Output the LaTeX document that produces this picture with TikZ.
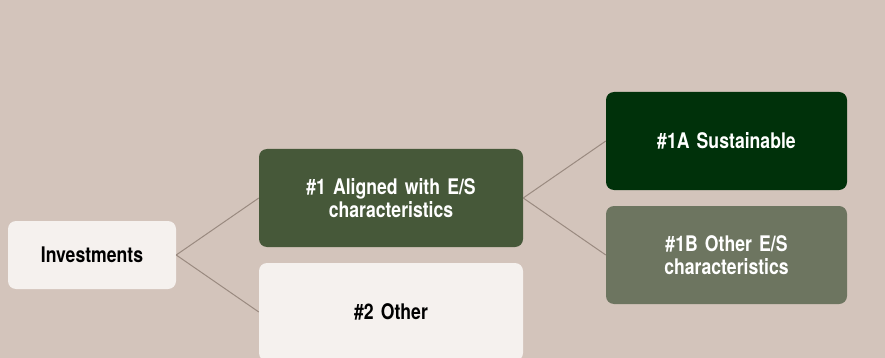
\documentclass[tikz,border=0pt]{standalone}
\usepackage{fontspec}
\setmainfont{TeX Gyre Heros}[FakeStretch=0.82]
\usepackage{tikz}
\usetikzlibrary{positioning}
\definecolor{bgtaupe}{HTML}{D3C4BB}
\definecolor{paleBox}{HTML}{F5F1EE}
\definecolor{midGreen}{HTML}{465839}
\definecolor{deepGreen}{HTML}{00310A}
\definecolor{sageGreen}{HTML}{6D7560}
\definecolor{linkCol}{HTML}{9A8A80}
\newcommand\tightwords{\spaceskip=4pt\relax}
\tikzstyle{box} = [rectangle, rounded corners=8pt, text centered,
font=\fontsize{21.5}{23}\selectfont\bfseries\tightwords, inner sep=0pt]
\tikzstyle{light} = [box, fill=paleBox, text=black]
\tikzstyle{line} = [draw=linkCol, line width=1pt]

\begin{document}
\begin{tikzpicture}[x=1pt, y=-1pt]
    \fill [bgtaupe] (0,0) rectangle (885,358);
    \useasboundingbox (0,0) rectangle (885,358);
    % nodes
    \node [light, minimum width=168pt, minimum height=68pt] (inv) at (92,255) {Investments};
    \node [box, fill=midGreen, text=white, text width=264pt, minimum height=98pt] (aligned) at (391,198) {\#1 Aligned with E/S\\ characteristics};
    \node [light, text width=264pt, minimum height=98pt] (other) at (391,312) {\#2 Other};
    \node [box, fill=deepGreen, text=white, text width=241pt, minimum height=98pt] (sust) at (726.5,141) {\#1A Sustainable};
    \node [box, fill=sageGreen, text=white, text width=241pt, minimum height=98pt] (otheres) at (726.5,255) {\#1B Other E/S\\ characteristics};

    % edges
    \path [line] (inv.east) -- (aligned.west);
    \path [line] (inv.east) -- (other.west);
    \path [line] (aligned.east) -- (sust.west);
    \path [line] (aligned.east) -- (otheres.west);
\end{tikzpicture}
\end{document}
